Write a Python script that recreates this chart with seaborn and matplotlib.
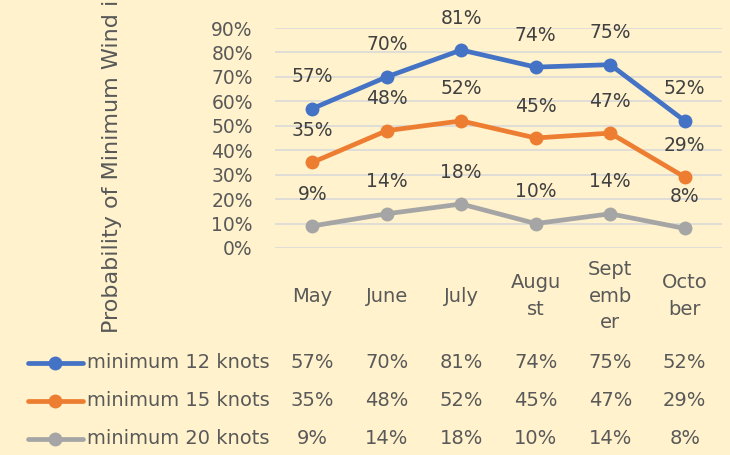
import matplotlib
matplotlib.use("Agg")
import matplotlib.pyplot as plt
import matplotlib.transforms as mtransforms
from matplotlib.lines import Line2D
import numpy as np
import pandas as pd
import seaborn as sns

months = ["May", "June", "July", "August", "September", "October"]
month_cells = ["May", "June", "July", "Augu\nst", "Sept\nemb\ner", "Octo\nber"]
series = ["minimum 12 knots", "minimum 15 knots", "minimum 20 knots"]
min12 = [0.57, 0.70, 0.81, 0.74, 0.75, 0.52]
min15 = [0.35, 0.48, 0.52, 0.45, 0.47, 0.29]
min20 = [0.09, 0.14, 0.18, 0.10, 0.14, 0.08]
colors = ["#4472C4", "#ED7D31", "#A5A5A5"]
yticks = [0.0, 0.1, 0.2, 0.3, 0.4, 0.5, 0.6, 0.7, 0.8, 0.9]

df = pd.DataFrame({
    "idx": list(range(6)) * 3,
    "value": min12 + min15 + min20,
    "series": [s for s in series for _ in range(6)],
})

sns.set_style("white")
plt.rcParams["font.family"] = ["DejaVu Sans"]
bg = "#FFF2CC"
txt = "#595959"

W, H = 730, 455
fig = plt.figure(figsize=(W / 100, H / 100), dpi=100, facecolor=bg)

# overlay in pixel coords for the data table and legend keys
ov = fig.add_axes([0, 0, 1, 1], zorder=0)
ov.set_xlim(0, W)
ov.set_ylim(H, 0)
ov.axis("off")
ov.patch.set_visible(False)

left, right, top, bottom = 275, 722, 28, 248
ax = fig.add_axes([left / W, 1 - bottom / H, (right - left) / W, (bottom - top) / H], zorder=1)
ax.set_facecolor(bg)
ax.patch.set_visible(False)

sns.lineplot(data=df, x="idx", y="value", hue="series", palette=colors,
             marker="o", markersize=10, markeredgewidth=0, linewidth=3.4,
             legend=False, ax=ax, zorder=3)

ax.set_xlim(-0.5, 5.5)
ax.set_ylim(0, 0.9)
ax.set_yticks(yticks)
ax.set_yticklabels([f"{int(round(t * 100))}%" for t in yticks], fontsize=13.5, color=txt)
ax.tick_params(axis="y", length=0, pad=16)
ax.set_xticks([])
ax.grid(axis="y", color="#D9D9D9", linewidth=1.2)
ax.set_axisbelow(True)
for sp in ax.spines.values():
    sp.set_visible(False)
ax.set_xlabel("")
ax.set_ylabel("")

# data labels above points
for vals in [min12, min15, min20]:
    for i, v in enumerate(vals):
        ax.annotate(f"{int(round(v * 100))}%", (i, v), xytext=(0, 23),
                    textcoords="offset points", ha="center", va="center",
                    fontsize=13.5, color="#404040", zorder=4)

# y axis title (only the part visible in the original)
fig.text(112 / W, 1 - 333 / H, "Probability of Minimum Wind i",
         rotation=90, ha="center", va="bottom", fontsize=16, color=txt)

# data table
tr = mtransforms.blended_transform_factory(ax.transData, ov.transData)
for i, m in enumerate(month_cells):
    ov.text(i, 296, m, transform=tr, ha="center", va="center",
            fontsize=14, color=txt, linespacing=1.5)
row_y = [363, 401, 439]
for vals, y in zip([min12, min15, min20], row_y):
    for i, v in enumerate(vals):
        ov.text(i, y, f"{int(round(v * 100))}%", transform=tr, ha="center",
                va="center", fontsize=14, color=txt)

# legend keys
for name, c, y in zip(series, colors, row_y):
    ov.add_line(Line2D([28, 83], [y, y], color=c, linewidth=3.4,
                       solid_capstyle="round"))
    ov.plot([55], [y], marker="o", color=c, markersize=10, markeredgewidth=0)
    ov.text(87, y, name, ha="left", va="center", fontsize=14, color=txt)

fig.savefig("out.png", dpi=100, facecolor=bg)
